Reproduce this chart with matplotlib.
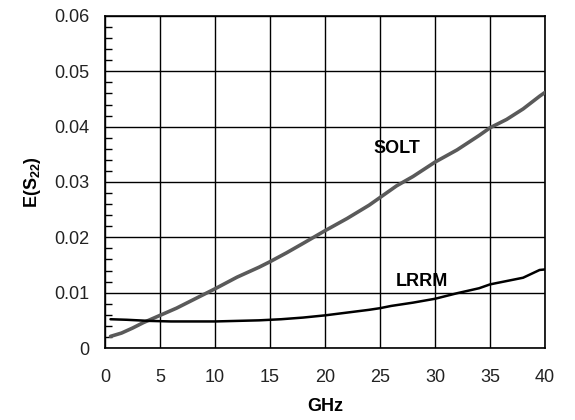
import matplotlib
matplotlib.use("Agg")
import matplotlib.pyplot as plt
from matplotlib.ticker import MultipleLocator

plt.rcParams['font.family'] = ['Liberation Sans', 'DejaVu Sans']
plt.rcParams['mathtext.fontset'] = 'custom'
plt.rcParams['mathtext.rm'] = 'Liberation Sans'
plt.rcParams['mathtext.bf'] = 'Liberation Sans:bold'

# Frequency sweep (GHz) and residual source match error E(S22)
freq_solt = [0.5, 1.5, 2.5, 3.5, 5, 6.5, 8, 10, 12, 14, 15, 16.5, 18, 20, 22, 24, 25,
             26.5, 28, 30, 32, 34, 35, 36.5, 38, 39.5, 40]
e_solt = [0.0021, 0.0027, 0.0036, 0.0046, 0.0059, 0.0072, 0.0087, 0.0107, 0.0128,
          0.0146, 0.0156, 0.0172, 0.0189, 0.0212, 0.0234, 0.0258, 0.0272,
          0.0293, 0.0310, 0.0336, 0.0358, 0.0384, 0.0398, 0.0413, 0.0432, 0.0455, 0.0462]

freq_lrrm = [0.5, 2, 4, 6, 8, 10, 12, 14, 16, 18, 20, 22, 24, 25, 26, 28, 30,
             32, 34, 35, 36, 38, 39.5, 40]
e_lrrm = [0.0052, 0.0051, 0.0049, 0.0048, 0.0048, 0.0048, 0.0049, 0.0050, 0.0052,
          0.0055, 0.0059, 0.0064, 0.0069, 0.0072, 0.0076, 0.0082, 0.0089,
          0.0099, 0.0108, 0.0115, 0.0119, 0.0127, 0.0141, 0.0142]

x_ticks = [0, 5, 10, 15, 20, 25, 30, 35, 40]
y_ticks = [0, 0.01, 0.02, 0.03, 0.04, 0.05, 0.06]
y_tick_labels = ['0', '0.01', '0.02', '0.03', '0.04', '0.05', '0.06']

fig = plt.figure(figsize=(5.75, 4.2), dpi=100)
ax = fig.add_axes([0.1826, 0.1714, 0.7654, 0.7906])

ax.plot(freq_solt, e_solt, color='#5a5a5a', lw=2.6, solid_capstyle='round', zorder=3)
ax.plot(freq_lrrm, e_lrrm, color='black', lw=1.8, solid_capstyle='round', zorder=3)

ax.set_xlim(0, 40)
ax.set_ylim(0, 0.06)
ax.set_xticks(x_ticks)
ax.set_xticklabels([str(v) for v in x_ticks])
ax.set_yticks(y_ticks)
ax.set_yticklabels(y_tick_labels)
ax.yaxis.set_minor_locator(MultipleLocator(0.002))

ax.grid(True, which='major', color='black', lw=1.0)
ax.set_axisbelow(True)
for s in ax.spines.values():
    s.set_color('black')
    s.set_linewidth(1.2)

ax.tick_params(axis='x', which='major', length=0, pad=15, labelsize=13, labelcolor='#222222')
ax.tick_params(axis='y', which='major', length=0, pad=11, labelsize=13, labelcolor='#222222')
ax.tick_params(axis='y', which='minor', direction='in', length=5, width=1.0, color='black')

ax.set_xlabel('GHz', fontsize=13, fontweight='bold', labelpad=9)
ax.set_ylabel(r'E(S$_{\mathbf{22}}$)', fontsize=13, fontweight='bold', labelpad=8)

ax.text(26.5, 0.0360, 'SOLT', fontsize=13, fontweight='bold', ha='center', va='center')
ax.text(28.8, 0.0121, 'LRRM', fontsize=13, fontweight='bold', ha='center', va='center')

fig.savefig('out.png', dpi=100)
